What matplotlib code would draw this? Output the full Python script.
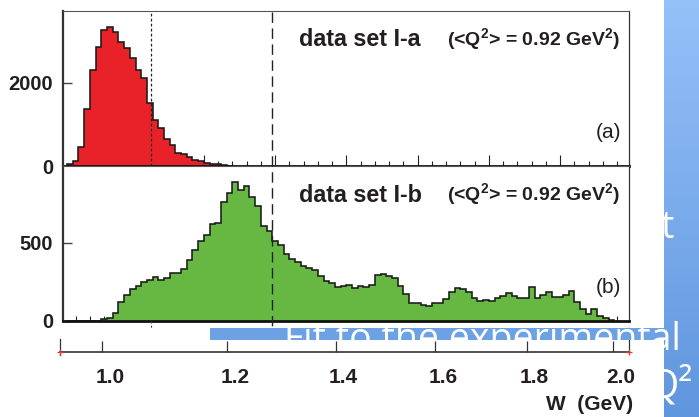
import numpy as np
import matplotlib
matplotlib.use("Agg")
import matplotlib.pyplot as plt
from matplotlib.ticker import MultipleLocator, FixedLocator, NullLocator
from matplotlib.patches import Rectangle
from matplotlib.lines import Line2D
from matplotlib.transforms import blended_transform_factory, ScaledTranslation

plt.rcParams["font.family"] = ["Liberation Sans", "DejaVu Sans"]
plt.rcParams["mathtext.fontset"] = "custom"
plt.rcParams["mathtext.rm"] = "Liberation Sans"
plt.rcParams["mathtext.bf"] = "Liberation Sans:bold"
plt.rcParams["lines.scale_dashes"] = False

# ---------------------------------------------------------------- data
W_FIRST_EDGE = 0.935   # GeV, lower edge of first bin
BIN_WIDTH = 0.01       # GeV

counts_Ia = [40, 115, 458, 1378, 2310, 2857, 3270, 3355, 3214, 2988,
             2843, 2588, 2306, 2106, 1518, 1101, 925, 660, 499, 313,
             282, 217, 137, 113, 82, 58, 41, 24, 10]

counts_Ib = [0, 0, 0, 0, 0, 0, 8, 19, 47, 120,
             163, 203, 222, 250, 261, 282, 261, 276, 308, 308,
             331, 389, 453, 513, 549, 620, 624, 761, 821, 891,
             836, 861, 793, 733, 607, 577, 511, 483, 428, 394,
             378, 351, 336, 325, 287, 254, 244, 218, 224, 231,
             212, 224, 218, 228, 296, 302, 284, 276, 224, 172,
             113, 113, 100, 94, 113, 113, 140, 181, 208, 206,
             186, 144, 128, 133, 128, 144, 158, 176, 158, 144,
             144, 214, 144, 165, 186, 154, 150, 165, 192, 122,
             73, 43, 73, 30, 15, 5]

W_DOTTED = 1.082
W_DASHED = 1.295

panel_titles = ["data set I-a", "data set I-b"]
panel_q2 = r"(<Q$^\mathbf{2}$> = 0.92 GeV$^\mathbf{2}$)"
panel_tags = ["(a)", "(b)"]
panel_yticks = [[0, 2000], [0, 500]]
panel_ylim = [3735, 992]

scale_tick_w = [0.997, 1.216, 1.406, 1.580, 1.741, 1.893]
scale_tick_labels = ["1.0", "1.2", "1.4", "1.6", "1.8", "2.0"]
scale_title = "W  (GeV)"

RED = "#E82228"
GREEN = "#67B843"
INK = "#231F20"

# ---------------------------------------------------------------- layout
FW, FH = 699, 417
fig = plt.figure(figsize=(FW / 100, FH / 100), dpi=100)
fig.patch.set_facecolor("white")


def fx(px):
    return px / FW


def fy(py):
    return 1 - py / FH


def w_at(px):
    return 0.925 + (px - 61.4) / 570.0


x_left, x_right = 62.7, 629.0
rows = [(10.7, 166.0), (166.0, 320.7)]
axes = []
for top, bot in rows:
    ax = fig.add_axes([fx(x_left), fy(bot), fx(x_right) - fx(x_left),
                       fy(top) - fy(bot)])
    axes.append(ax)

edges_a = W_FIRST_EDGE + BIN_WIDTH * np.arange(len(counts_Ia) + 1)
edges_b = W_FIRST_EDGE + BIN_WIDTH * np.arange(len(counts_Ib) + 1)
hists = [(counts_Ia, edges_a, RED), (counts_Ib, edges_b, GREEN)]

for i, ax in enumerate(axes):
    vals, edges, col = hists[i]
    vals = np.asarray(vals, float)
    ax.stairs(vals, edges, fill=True, color=col, lw=0, zorder=2)
    ax.stairs(vals, edges, fill=False, color="#1a1a1a", lw=1.15, zorder=3,
              baseline=0)
    ax.set_xlim(w_at(x_left), w_at(x_right))
    ax.set_ylim(0, panel_ylim[i])

    ax.xaxis.set_major_locator(MultipleLocator(0.125, offset=0.05))
    ax.xaxis.set_minor_locator(MultipleLocator(0.025))
    ax.tick_params(axis="x", which="major", direction="in", length=8,
                   width=0.8, color="#222222", labelbottom=False)
    ax.tick_params(axis="x", which="minor", direction="in", length=3.6,
                   width=0.8, color="#222222")
    ax.yaxis.set_major_locator(FixedLocator(panel_yticks[i]))
    ax.yaxis.set_minor_locator(NullLocator())
    ax.tick_params(axis="y", direction="in", length=6.5, width=1.0,
                   color="#444444", pad=7, labelsize=14.5,
                   labelcolor=INK)
    for lab in ax.get_yticklabels():
        lab.set_fontweight("bold")

    ax.spines["left"].set_linewidth(1.6)
    ax.spines["left"].set_color("#333333")
    ax.spines["bottom"].set_linewidth(2.0)
    ax.spines["bottom"].set_color("#111111")
    ax.spines["top"].set_linewidth(0.8)
    ax.spines["top"].set_color("#555555")
    ax.spines["right"].set_linewidth(0.9)
    ax.spines["right"].set_color("#333333")
    ax.set_facecolor("white")
    for sp in ax.spines.values():
        sp.set_zorder(4)

    ax.text(0.4168, 0.77, panel_titles[i], transform=ax.transAxes,
            fontsize=16.8, fontweight="bold", color=INK, ha="left",
            va="baseline")
    ax.text(0.678, 0.77, panel_q2, transform=ax.transAxes,
            fontsize=14, fontweight="bold", color=INK, ha="left",
            va="baseline")
    ax.text(0.986, 0.178, panel_tags[i], transform=ax.transAxes,
            fontsize=15, color=INK, ha="right", va="baseline")

# dotted marker line in the upper panel
axes[0].axvline(W_DOTTED, color="#222222", lw=0.9, dashes=(2.0, 1.6),
                zorder=3)

# dashed marker line running through both panels
tr = blended_transform_factory(axes[1].transData, fig.transFigure)
dash = Line2D([W_DASHED, W_DASHED], [fy(11.5), fy(330)], transform=tr,
              color="#222222", lw=1.0, dashes=(7.5, 4.0), zorder=5)
fig.add_artist(dash)
tail = Line2D([W_DOTTED, W_DOTTED], [fy(321), fy(329)], transform=tr,
              color="#444444", lw=0.8, dashes=(1.5, 1.5), zorder=5)
fig.add_artist(tail)

# ---------------------------------------------------------------- W scale
s_left, s_right, s_y = 60.0, 629.0, 352.3
sax = fig.add_axes([fx(s_left), fy(s_y), fx(s_right) - fx(s_left),
                    (s_y - 340) / FH])
sax.set_facecolor("none")
sax.set_xlim(w_at(s_left), w_at(s_right))
sax.set_ylim(0, 1)
for side in ("left", "right", "top"):
    sax.spines[side].set_visible(False)
sax.spines["bottom"].set_linewidth(1.2)
sax.spines["bottom"].set_color("#333333")
sax.set_yticks([])
sax.xaxis.set_major_locator(FixedLocator(scale_tick_w))
sax.set_xticklabels(scale_tick_labels)
sax.tick_params(axis="x", direction="in", length=8, width=0.9,
                color="#333333", pad=11, labelsize=15, labelcolor=INK)
shift = ScaledTranslation(8 / 100, 0, fig.dpi_scale_trans)
for lab in sax.get_xticklabels():
    lab.set_fontweight("bold")
    lab.set_transform(lab.get_transform() + shift)

tr_s = blended_transform_factory(sax.transData, fig.transFigure)
fig.add_artist(Line2D([w_at(s_left)] * 2, [fy(339), fy(355)],
                      transform=tr_s, color="#333333", lw=0.9))
fig.add_artist(Line2D([w_at(s_right)] * 2, [fy(328), fy(353)],
                      transform=tr_s, color="#333333", lw=0.9))
fig.add_artist(Line2D([w_at(s_left), w_at(s_right)], [fy(s_y)] * 2,
                      transform=tr_s, ls="none", marker="+", ms=5,
                      mew=0.9, color="#E03A3A", zorder=6))
fig.text(fx(633), fy(410), scale_title, fontsize=15, fontweight="bold",
         color=INK, ha="right", va="baseline")

# ---------------------------------------------------------------- slide overlay
band_x0 = 664
bax = fig.add_axes([fx(band_x0), 0, 1 - fx(band_x0), 1], zorder=6)
grad = np.linspace(0, 1, 256)[:, None]
top_c = np.array([0x95, 0xC1, 0xF9]) / 255
bot_c = np.array([0x60, 0x96, 0xDE]) / 255
img = top_c[None, None, :] * (1 - grad[..., None]) + bot_c[None, None, :] * grad[..., None]
bax.imshow(img, aspect="auto", extent=(0, 1, 0, 1), origin="upper")
bax.set_axis_off()

strip = Rectangle((fx(210), fy(340)), fx(band_x0) - fx(210), (340 - 328) / FH,
                  transform=fig.transFigure, facecolor="#6CA2E4",
                  edgecolor="none", zorder=6)
fig.add_artist(strip)
band_clip = Rectangle((fx(band_x0), 0), 1 - fx(band_x0), 1,
                      transform=fig.transFigure, facecolor="none",
                      edgecolor="none")
fig.add_artist(band_clip)


def slide_text(x, y, s, clips, **kw):
    for c in clips:
        t = fig.text(fx(x), fy(y), s, color="white", family="Open Sans",
                     zorder=7, va="baseline", **kw)
        t.set_clip_path(c)
        t.set_clip_on(True)


slide_text(681, 350, "Fit to the experimental", [strip, band_clip],
           fontsize=27, ha="right")
slide_text(674, 238, "t", [band_clip], fontsize=27, ha="right")
slide_text(693, 398, "Q\u00b2", [band_clip], fontsize=29, ha="right")

fig.savefig("out.png", dpi=100, facecolor="white")
